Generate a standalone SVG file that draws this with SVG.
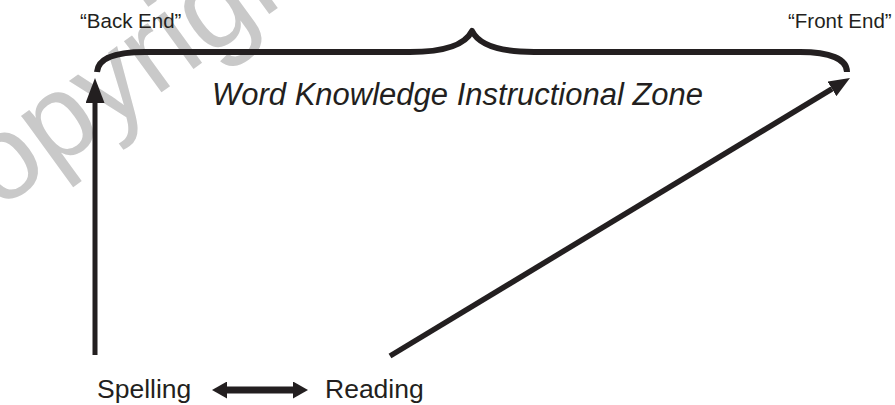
<svg xmlns="http://www.w3.org/2000/svg" width="895" height="405" viewBox="0 0 895 405">
  <style>
    .lbl { font-family: "Liberation Sans", Arial, sans-serif; fill: #231f20; }
    .small { font-size: 20.5px; }
    .big { font-size: 26.5px; }
    .zone { font-size: 31px; font-style: italic; }
    .wm { font-family: "Liberation Sans", Arial, sans-serif; font-size: 120px; fill: #c9c9c9; }
    .conn { stroke: #231f20; fill: none; }
  </style>
  <defs>
    <marker id="headA" markerUnits="userSpaceOnUse" markerWidth="25" markerHeight="19" viewBox="0 0 10 10" refX="0" refY="5" orient="auto" preserveAspectRatio="none">
      <path d="M0,0 L10,5 L0,10 Z" fill="#231f20"/>
    </marker>
    <marker id="headB" markerUnits="userSpaceOnUse" markerWidth="21" markerHeight="17" viewBox="0 0 10 10" refX="0" refY="5" orient="auto" preserveAspectRatio="none">
      <path d="M0,0 L10,5 L0,10 Z" fill="#231f20"/>
    </marker>
    <marker id="headC" markerUnits="userSpaceOnUse" markerWidth="15" markerHeight="17" viewBox="0 0 10 10" refX="0" refY="5" orient="auto-start-reverse" preserveAspectRatio="none">
      <path d="M0,0 L10,5 L0,10 Z" fill="#231f20"/>
    </marker>
  </defs>

  <text class="wm" transform="translate(-72,262) rotate(-36)">Copyright</text>

  <g id="brace">
    <path class="conn" stroke-width="6" stroke-linejoin="round" d="M97,72 C98,59 112,52 145,52 L410,52 C445,52 465,45 472,31 C479,45 499,52 534,52 L800,52 C830,52 847,59 847,72"/>
  </g>

  <g id="connectors">
    <line class="conn" stroke-width="5" x1="95" y1="355" x2="95" y2="103" marker-end="url(#headA)"/>
    <line class="conn" stroke-width="5.5" x1="390" y1="356" x2="832" y2="88.9" marker-end="url(#headB)"/>
    <line class="conn" stroke-width="7" x1="227" y1="390" x2="293" y2="390" marker-start="url(#headC)" marker-end="url(#headC)"/>
  </g>

  <g id="back-end"><text class="lbl small" x="80" y="28">“Back End”</text></g>
  <g id="front-end"><text class="lbl small" x="788" y="28">“Front End”</text></g>
  <g id="zone"><text class="lbl zone" x="212" y="105">Word Knowledge Instructional Zone</text></g>
  <g id="spelling"><text class="lbl big" x="97" y="398">Spelling</text></g>
  <g id="reading"><text class="lbl big" x="325" y="398">Reading</text></g>
</svg>
